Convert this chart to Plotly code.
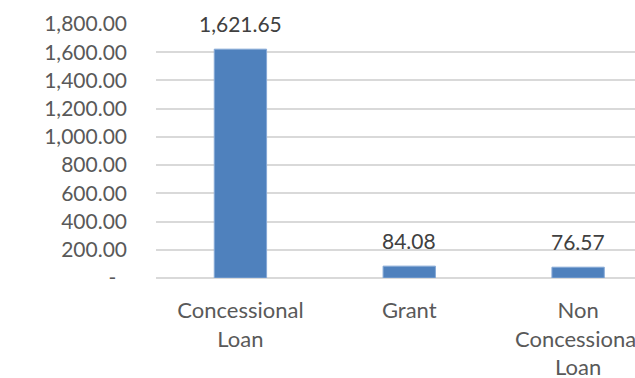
import plotly.graph_objects as go

# Funding by type
categories = ["Concessional Loan", "Grant", "Non Concessional Loan"]
category_labels = ["Concessional<br>Loan", "Grant", "Non<br>Concessional<br>Loan"]
amounts = [1621.65, 84.08, 76.57]

y_ticks = [0, 200, 400, 600, 800, 1000, 1200, 1400, 1600, 1800]
y_tick_text = ["-\u00a0\u00a0"] + [f"{v:,.2f}" for v in y_ticks[1:]]

FONT = "Lato, 'Open Sans', sans-serif"
TEXT_COLOR = "#595959"

fig = go.Figure(
    go.Bar(
        x=categories,
        y=amounts,
        width=0.31,
        marker=dict(color="#4F81BD", line=dict(color="#86A9D6", width=1)),
        hoverinfo="skip",
    )
)

# Value labels above each bar
for cat, val in zip(categories, amounts):
    fig.add_annotation(
        x=cat, y=val, text=f"{val:,.2f}", showarrow=False,
        yanchor="middle", yshift=26,
        font=dict(family=FONT, size=21, color="#404040"),
    )

fig.update_layout(
    width=635, height=378,
    margin=dict(l=156, r=0, t=24, b=100, autoexpand=False),
    paper_bgcolor="white", plot_bgcolor="white",
    showlegend=False,
    bargap=0.69,
    font=dict(family=FONT, size=21, color=TEXT_COLOR),
)

fig.update_xaxes(
    range=[-0.5, 2.337],
    tickmode="array", tickvals=categories, ticktext=category_labels,
    showgrid=False, showline=False, zeroline=False, ticks="",
    ticklabelstandoff=17,
    automargin=False, fixedrange=True,
    tickfont=dict(family=FONT, size=22, color=TEXT_COLOR),
)

fig.update_yaxes(
    range=[0, 1800],
    tickmode="array", tickvals=y_ticks, ticktext=y_tick_text,
    showgrid=True, gridcolor="#D9D9D9", gridwidth=1.5,
    zeroline=True, zerolinecolor="#D9D9D9", zerolinewidth=1.5,
    showline=False, ticks="",
    ticklabelstandoff=28,
    automargin=False, fixedrange=True,
    tickfont=dict(family=FONT, size=21, color=TEXT_COLOR),
)

fig.write_html("out.html")
